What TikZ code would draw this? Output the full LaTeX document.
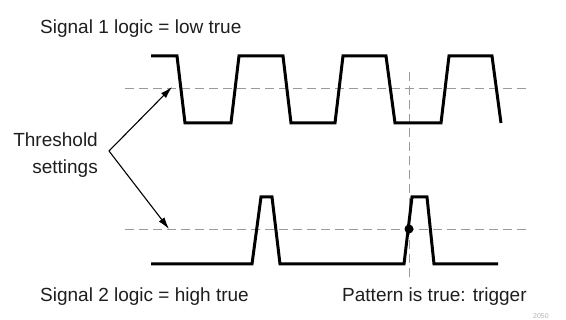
\documentclass[tikz,border=0pt]{standalone}
\usepackage{fontspec}
\setmainfont{Liberation Sans}
\usetikzlibrary{arrows.meta}
\definecolor{sigtext}{HTML}{1E1E1E}
\definecolor{threshgray}{HTML}{9A9A9A}
\definecolor{figid}{HTML}{B4B4B4}

\begin{document}
\begin{tikzpicture}[
    x=1pt, y=-1pt,
    sigtext/.style={font=\fontsize{19}{27}\selectfont, text=sigtext, inner sep=0pt},
    wave/.style={draw=black, line width=3pt, line join=miter},
    thresh/.style={draw=threshgray, line width=1pt, dash pattern=on 9pt off 5pt},
    arrow/.style={-{Latex[length=12pt, width=7pt]}, line width=1.1pt, draw=black}
  ]
    \useasboundingbox (0,0) rectangle (566,320);
    % threshold and trigger lines
    \draw[thresh] (125,89) -- (527,89);
    \draw[thresh] (125,230) -- (527,230);
    \draw[thresh] (409,72) -- (409,277);
    % signal 1, low true
    \draw[wave] (151,56) -- (177,56) -- (185,123) -- (231,123) -- (239,56) -- (283,56)
      -- (291,123) -- (335,123) -- (343,56) -- (386,56) -- (395,123) -- (441,123)
      -- (449,56) -- (492,56) -- (501,123);
    % signal 2, high true
    \draw[wave] (151,264) -- (252,264) -- (261,197) -- (272,197) -- (280,264) -- (404,264)
      -- (412,197) -- (427,197) -- (434,264) -- (498,264);
    \fill (409,229) circle (4.5);
    % labels
    \node[sigtext, anchor=west] (sigone) at (40,29) {Signal 1 logic = low true};
    \node[sigtext, anchor=east, align=right] (thr) at (98,155.5) {Threshold\\settings};
    \node[sigtext, anchor=west] (sigtwo) at (40,297) {Signal 2 logic = high true};
    \node[sigtext, anchor=west] (trig) at (342,297) {Pattern is true: trigger};
    \node[font=\fontsize{7}{8}\selectfont, text=figid, anchor=west, inner sep=0pt] (figno) at (533,316) {2050};
    % arrows to the thresholds
    \coordinate (split) at (109,151);
    \coordinate (throne) at (172,87);
    \coordinate (thrtwo) at (169,229);
    \draw[arrow] (split) -- (throne);
    \draw[arrow] (split) -- (thrtwo);
  \end{tikzpicture}
\end{document}
